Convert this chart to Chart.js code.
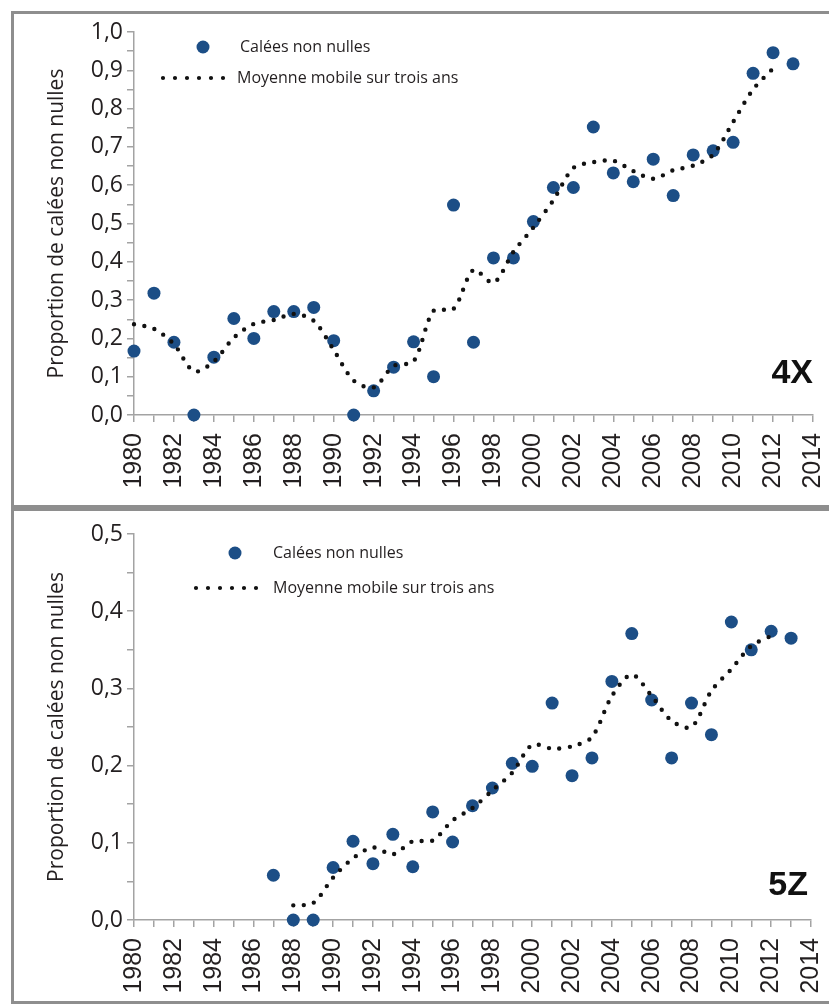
<!DOCTYPE html>
<html lang="fr">
<head>
<meta charset="UTF-8">
<title>Proportion de calées non nulles</title>
<script src="https://cdn.jsdelivr.net/npm/chart.js"></script>
<style>
  body { margin: 0; background: #fff; width: 829px; height: 1004px; overflow: hidden; position: relative; }
  .panel { position: absolute; left: 11px; width: 815px;
           border-left: 3px solid #8e8e8e; border-top: 3px solid #8e8e8e; border-bottom: 3px solid #8e8e8e; }
  #p4x { top: 11px; height: 491px; }
  #p5z { top: 508px; height: 490px; }
  canvas { display: block; }
</style>
</head>
<body>
<div class="panel" id="p4x"><canvas id="chart4X" width="815" height="491"></canvas></div>
<div class="panel" id="p5z"><canvas id="chart5Z" width="815" height="490"></canvas></div>

<script>
// ---- données ----
const years4X = [1980, 1981, 1982, 1983, 1984, 1985, 1986, 1987, 1988, 1989, 1990, 1991, 1992, 1993, 1994, 1995, 1996,
                 1997, 1998, 1999, 2000, 2001, 2002, 2003, 2004, 2005, 2006, 2007, 2008, 2009, 2010, 2011, 2012, 2013];
const calees4X = [0.167, 0.318, 0.19, 0.0, 0.151, 0.252, 0.200, 0.270, 0.270, 0.281, 0.194, 0.0, 0.063, 0.125, 0.191, 0.100, 0.548,
                  0.19, 0.41, 0.41, 0.505, 0.594, 0.594, 0.752, 0.632, 0.609, 0.668, 0.573, 0.679, 0.690, 0.712, 0.892, 0.946, 0.917];
const maYears4X = [1980, 1981, 1982, 1983, 1984, 1985, 1986, 1987, 1988, 1989, 1990, 1991, 1992, 1993, 1994, 1995, 1996,
                   1997, 1998, 1999, 2000, 2001, 2002, 2003, 2004, 2005, 2006, 2007, 2008, 2009, 2010, 2011, 2012];
const moyenne4X = [0.237, 0.225, 0.185, 0.114, 0.14, 0.202, 0.238, 0.248, 0.264, 0.246, 0.17, 0.09, 0.072, 0.128, 0.14, 0.272, 0.277,
                   0.379, 0.345, 0.426, 0.49, 0.561, 0.645, 0.66, 0.664, 0.637, 0.617, 0.639, 0.651, 0.68, 0.765, 0.85, 0.905];

const years5Z = [1987, 1988, 1989, 1990, 1991, 1992, 1993, 1994, 1995, 1996, 1997, 1998, 1999, 2000,
                 2001, 2002, 2003, 2004, 2005, 2006, 2007, 2008, 2009, 2010, 2011, 2012, 2013];
const calees5Z = [0.058, 0.0, 0.0, 0.068, 0.102, 0.073, 0.111, 0.069, 0.140, 0.101, 0.148, 0.171, 0.203, 0.199,
                  0.281, 0.187, 0.210, 0.309, 0.371, 0.285, 0.210, 0.281, 0.240, 0.386, 0.350, 0.374, 0.365];
const maYears5Z = [1988, 1989, 1990, 1991, 1992, 1993, 1994, 1995, 1996, 1997, 1998, 1999, 2000,
                   2001, 2002, 2003, 2004, 2005, 2006, 2007, 2008, 2009, 2010, 2011, 2012];
const moyenne5Z = [0.019, 0.022, 0.055, 0.08, 0.094, 0.085, 0.102, 0.103, 0.129, 0.145, 0.168, 0.191, 0.227,
                   0.222, 0.225, 0.237, 0.29, 0.318, 0.29, 0.258, 0.25, 0.297, 0.325, 0.355, 0.368];

const yLabels4X = ['0,0', '0,1', '0,2', '0,3', '0,4', '0,5', '0,6', '0,7', '0,8', '0,9', '1,0'];
const yLabels5Z = ['0,0', '0,1', '0,2', '0,3', '0,4', '0,5'];
const xLabels = ['1980', '1982', '1984', '1986', '1988', '1990', '1992', '1994', '1996',
                 '1998', '2000', '2002', '2004', '2006', '2008', '2010', '2012', '2014'];

const legendPoints = 'Calées non nulles';
const legendLine = 'Moyenne mobile sur trois ans';
const yTitle = 'Proportion de calées non nulles';

const BLUE = '#1c4e86';
const TEXT = '#231f20';
const AXIS = '#a3a3a3';

function toXY(xs, ys) {
    return xs.map(function (x, i) { return { x: x, y: ys[i] }; });
}

// légende + étiquette de zone, dessinées dans le canevas
function decorPlugin(o) {
    return {
        id: 'decor',
        afterDraw: function (chart) {
            const ctx = chart.ctx;
            const area = chart.chartArea;
            ctx.save();
            // point de légende
            ctx.fillStyle = BLUE;
            ctx.beginPath();
            ctx.arc(o.dotX, o.row1, 6.5, 0, Math.PI * 2);
            ctx.fill();
            // pointillé de légende
            ctx.strokeStyle = '#111';
            ctx.lineWidth = 4.2;
            ctx.lineCap = 'round';
            ctx.setLineDash([0, 12]);
            ctx.beginPath();
            ctx.moveTo(o.lineX0, o.row2);
            ctx.lineTo(o.lineX0 + 72, o.row2);
            ctx.stroke();
            ctx.setLineDash([]);
            // textes
            ctx.fillStyle = TEXT;
            ctx.font = '16px "Open Sans"';
            ctx.textBaseline = 'middle';
            ctx.textAlign = 'left';
            ctx.fillText(legendPoints, o.text1X, o.row1);
            ctx.fillText(legendLine, o.text2X, o.row2);
            // zone
            ctx.font = 'bold 34px "Liberation Sans"';
            ctx.textAlign = 'right';
            ctx.textBaseline = 'alphabetic';
            ctx.fillStyle = '#111';
            ctx.fillText(o.tag, area.right - o.tagDx, area.bottom - o.tagDy);
            ctx.restore();
        }
    };
}

function makeChart(id, pts, line, yMax, yLabels, pad, xH, decor) {
    return new Chart(document.getElementById(id), {
        type: 'scatter',
        data: {
            datasets: [{
                label: legendLine,
                data: line,
                showLine: true,
                borderColor: '#111',
                borderWidth: 4.4,
                borderDash: [0, 10.5],
                borderCapStyle: 'round',
                borderJoinStyle: 'round',
                tension: 0.3,
                pointRadius: 0,
                pointHoverRadius: 0,
                clip: false
            }, {
                label: legendPoints,
                data: pts,
                backgroundColor: BLUE,
                borderColor: BLUE,
                borderWidth: 0,
                pointRadius: 6.5,
                pointHoverRadius: 6.5,
                clip: false
            }]
        },
        options: {
            responsive: false,
            animation: false,
            events: [],
            layout: { padding: pad },
            plugins: { legend: { display: false }, tooltip: { enabled: false } },
            scales: {
                x: {
                    type: 'linear',
                    min: 1980,
                    max: 2014,
                    afterFit: function (s) { s.height = xH; s.paddingLeft = 0; s.paddingRight = 0; },
                    ticks: {
                        stepSize: 1,
                        autoSkip: false,
                        minRotation: 90,
                        maxRotation: 90,
                        padding: 11,
                        color: TEXT,
                        font: { family: 'Liberation Sans', size: 25 },
                        callback: function (v, i) { return i % 2 === 0 ? xLabels[i / 2] : ''; }
                    },
                    grid: { drawOnChartArea: false, drawTicks: true, tickLength: 7, color: AXIS, lineWidth: 1.5 },
                    border: { color: AXIS, width: 1.5 }
                },
                y: {
                    min: 0,
                    max: yMax,
                    afterFit: function (s) { s.width = 120; s.paddingTop = 0; s.paddingBottom = 0; },
                    title: {
                        display: true,
                        text: yTitle,
                        color: TEXT,
                        font: { family: 'Open Sans', size: 21 },
                        padding: { top: 30, bottom: 0 }
                    },
                    ticks: {
                        stepSize: 0.05,
                        autoSkip: false,
                        padding: 4,
                        color: TEXT,
                        font: { family: 'Open Sans', size: 23 },
                        callback: function (v, i) { return i % 2 === 0 ? yLabels[i / 2] : ''; }
                    },
                    grid: { drawOnChartArea: false, drawTicks: true, tickLength: 7, color: AXIS, lineWidth: 1.5 },
                    border: { color: AXIS, width: 1.5 }
                }
            }
        },
        plugins: [decorPlugin(decor)]
    });
}

makeChart('chart4X', toXY(years4X, calees4X), toXY(maYears4X, moyenne4X), 1.0, yLabels4X,
    { left: 0, right: 16, top: 18, bottom: 0 }, 90,
    { dotX: 189, row1: 33, text1X: 226, lineX0: 149, row2: 64, text2X: 223, tag: '4X', tagDx: 0, tagDy: 32 });

makeChart('chart5Z', toXY(years5Z, calees5Z), toXY(maYears5Z, moyenne5Z), 0.5, yLabels5Z,
    { left: 0, right: 18, top: 23, bottom: 0 }, 81,
    { dotX: 221, row1: 42, text1X: 259, lineX0: 182, row2: 77, text2X: 259, tag: '5Z', tagDx: 3, tagDy: 25 });
</script>
</body>
</html>
